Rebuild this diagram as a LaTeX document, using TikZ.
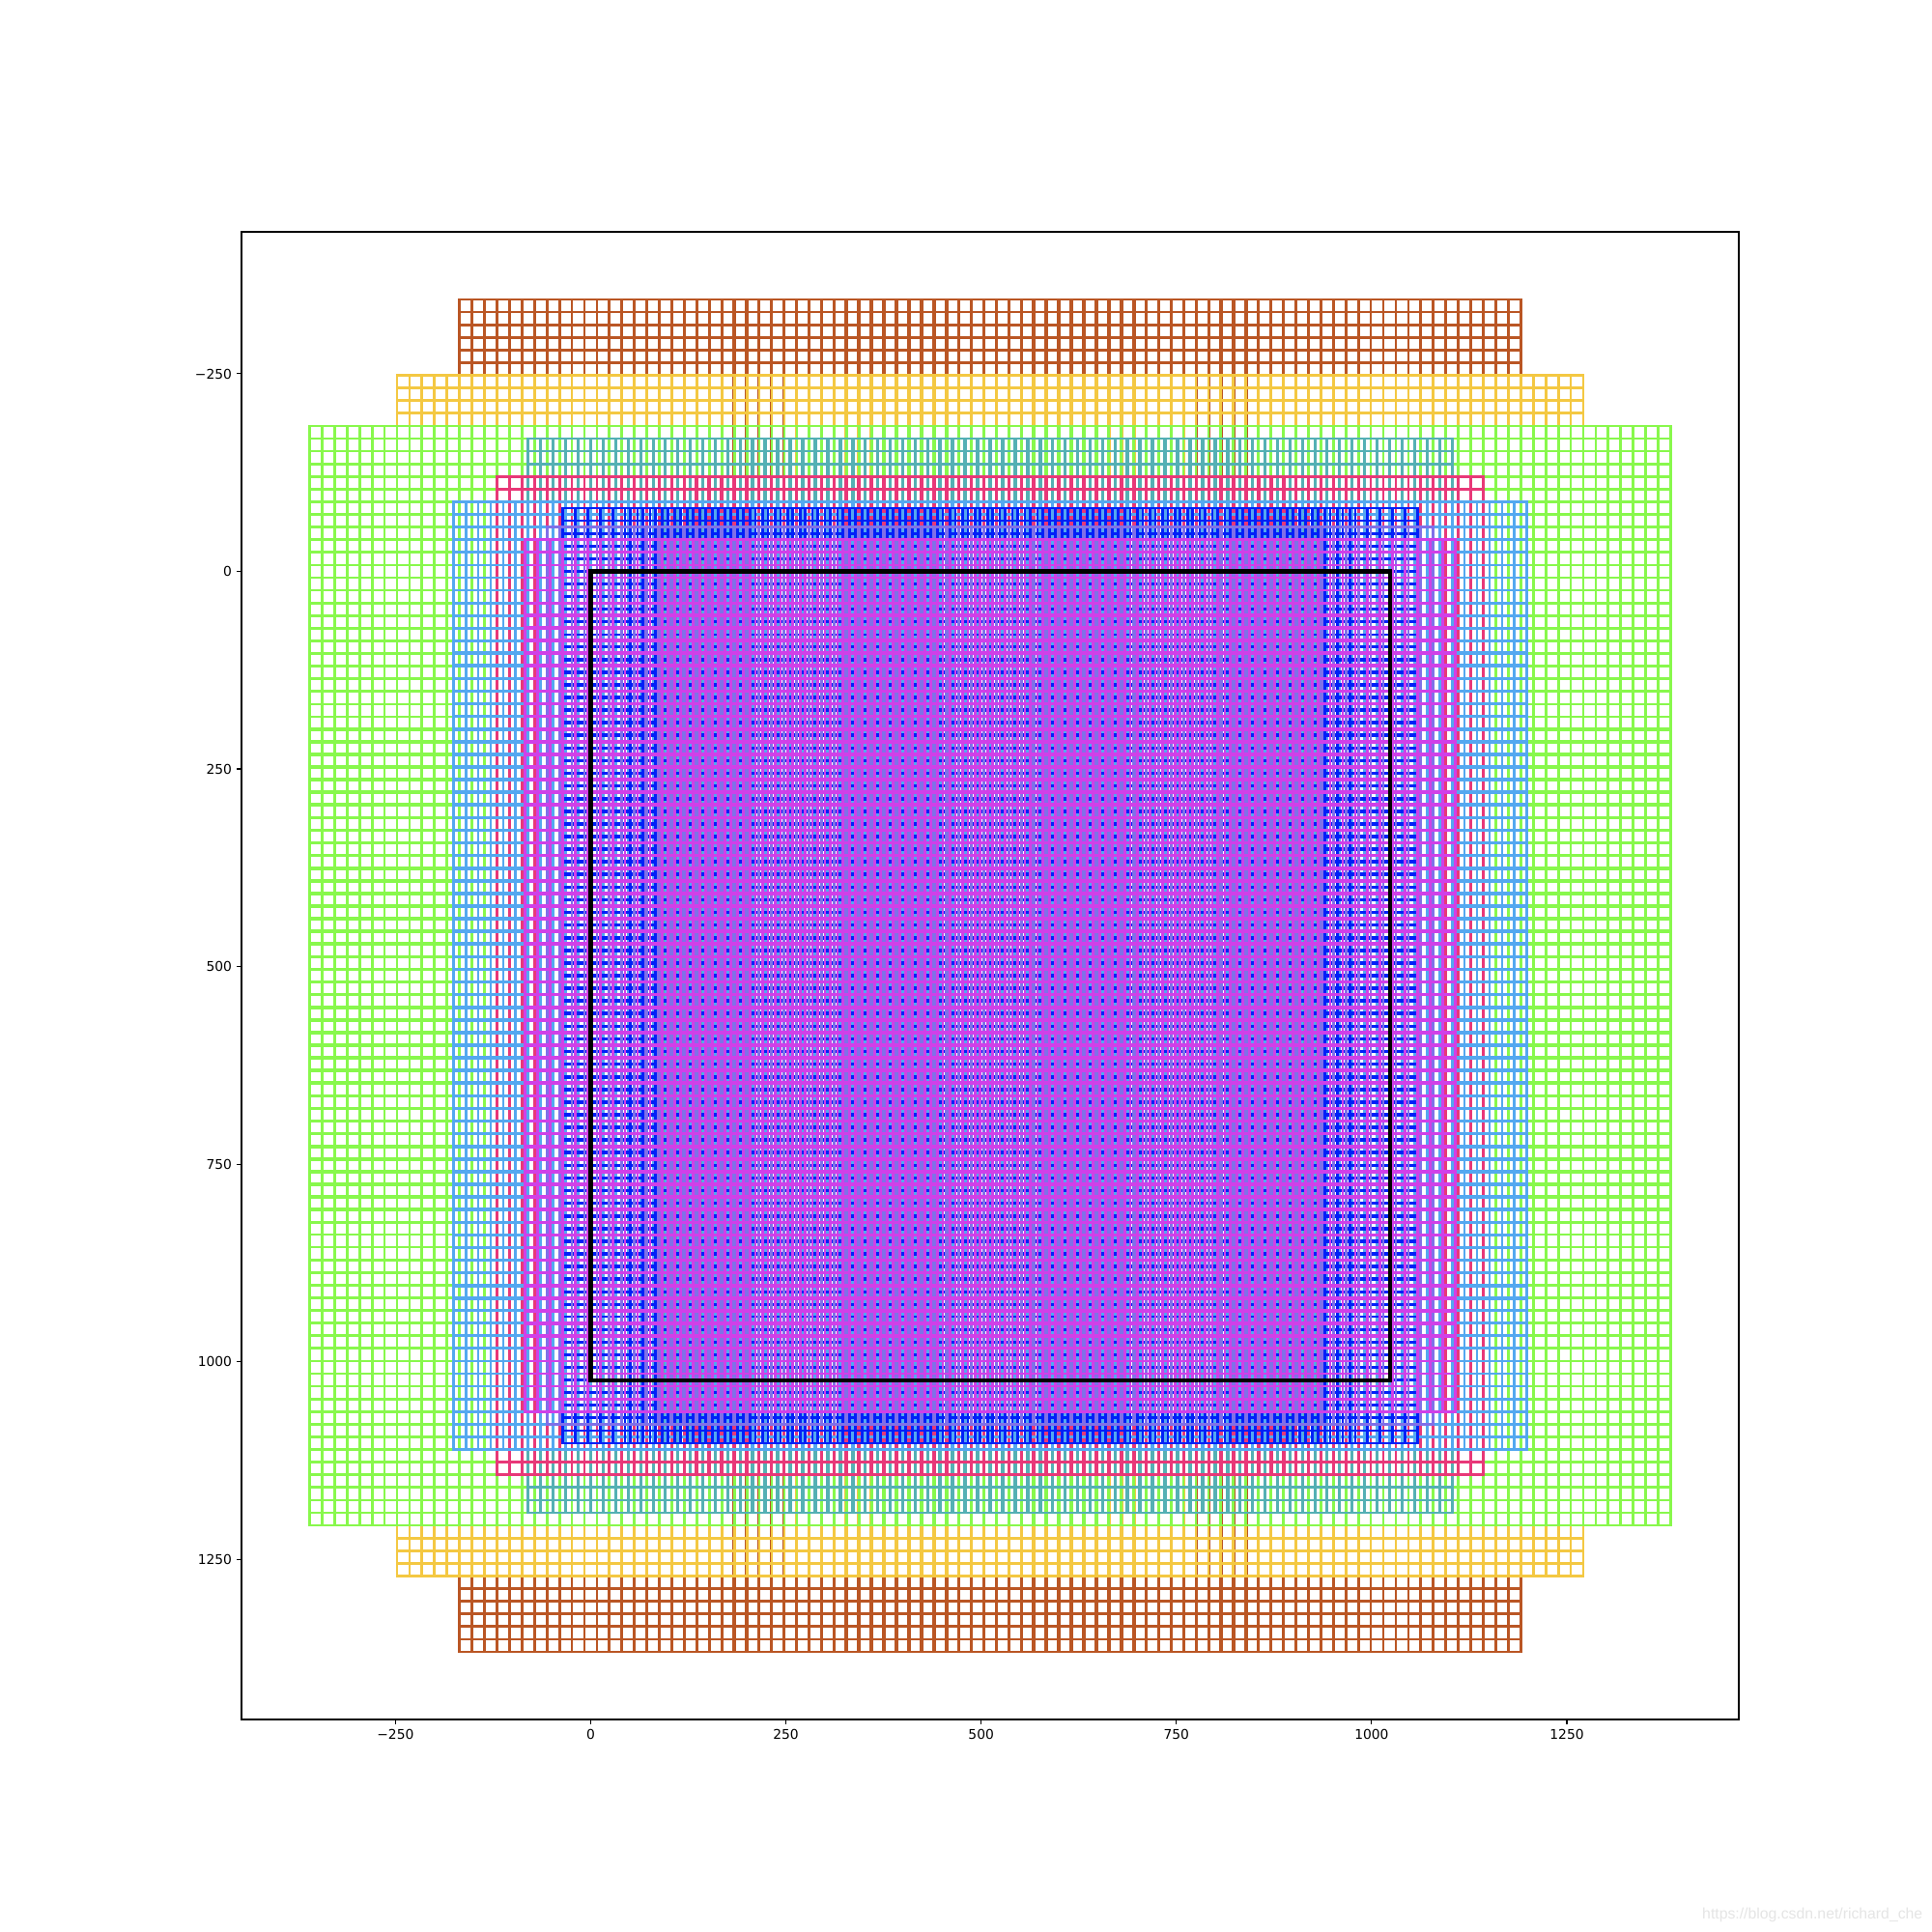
\documentclass[tikz,border=0pt]{standalone}
\usepackage{fontspec}
\setmainfont{DejaVu Sans}
\newfontfamily\wmfont{Liberation Sans}
\definecolor{cBrown}{RGB}{186,86,36}
\definecolor{cYellow}{RGB}{244,200,66}
\definecolor{cGreen}{RGB}{136,248,76}
\definecolor{cTeal}{RGB}{84,176,180}
\definecolor{cCrimson}{RGB}{232,56,120}
\definecolor{cLightBlue}{RGB}{84,168,240}
\definecolor{cBlue}{RGB}{0,32,248}
\definecolor{cSlate}{RGB}{128,112,232}
\definecolor{cMagenta}{RGB}{208,64,232}
\tikzset{
  anchorline/.style={line width=2bp, line cap=rect},
  axisline/.style={line width=0.8bp, black},
  ticklabel/.style={inner sep=0pt, font=\fontsize{10}{12}\selectfont, text height=7.6pt, text depth=0pt},
}
\newcommand\anchorgrid[3]{%
  \pgfmathsetmacro\anW{(#1-1)/2}%
  \pgfmathsetmacro\anH{(#2-1)/2}%
  \pgfmathsetmacro\anXa{7.5-\anW}%
  \pgfmathsetmacro\anXb{1015.5+\anW}%
  \pgfmathsetmacro\anYa{7.5-\anH}%
  \pgfmathsetmacro\anYb{1015.5+\anH}%
  \draw[anchorline, #3] foreach \i in {0,...,63}{
     ({7.5+16*\i-\anW},\anYa) -- ({7.5+16*\i-\anW},\anYb)
     ({7.5+16*\i+\anW},\anYa) -- ({7.5+16*\i+\anW},\anYb)
     (\anXa,{7.5+16*\i-\anH}) -- (\anXb,{7.5+16*\i-\anH})
     (\anXa,{7.5+16*\i+\anH}) -- (\anXb,{7.5+16*\i+\anH})
  };%
}
\begin{document}
\begin{tikzpicture}[x=0.58425pt, y=-0.59134pt]
\useasboundingbox (-756.39,-722.86) rectangle (1717.5,1721.42);
\fill[white] (-756.39,-722.86) rectangle (1717.5,1721.42);
% anchor grids, drawn in layer order
\anchorgrid{352}{704}{cBrown}
\anchorgrid{512}{512}{cYellow}
\anchorgrid{736}{384}{cGreen}
\anchorgrid{176}{352}{cTeal}
\anchorgrid{256}{256}{cCrimson}
\anchorgrid{368}{192}{cLightBlue}
\anchorgrid{88}{176}{cBlue}
\anchorgrid{128}{128}{cSlate}
\anchorgrid{184}{96}{cMagenta}
% image boundary
\draw[line width=3bp, black] (0,0) rectangle (1024,1024);
% axes frame
\draw[axisline] (-447.15,-429.55) rectangle (1470.15,1452.55);
% x ticks
\foreach \t/\lab [count=\k] in {-250/{−250},0/0,250/250,500/500,750/750,1000/1000,1250/1250}{
  \draw[axisline] (\t,1452.55) -- ++(0pt,-3.5bp);
  \node[ticklabel, anchor=north] (xt\k) at ([yshift=-7bp]\t,1452.55) {\lab};
}
% y ticks
\foreach \t/\lab [count=\k] in {-250/{−250},0/0,250/250,500/500,750/750,1000/1000,1250/1250}{
  \draw[axisline] (-447.15,\t) -- ++(-3.5bp,0pt);
  \node[ticklabel, anchor=east] (yt\k) at ([xshift=-7bp]-447.15,\t) {\lab};
}
% watermark
\node[anchor=base west, inner sep=0pt, text=black!10, font=\wmfont\fontsize{11.4}{13}\selectfont] (wm) at (1423.1,1704.3) {https://blog.csdn.net/richard\_che};
\end{tikzpicture}
\end{document}
